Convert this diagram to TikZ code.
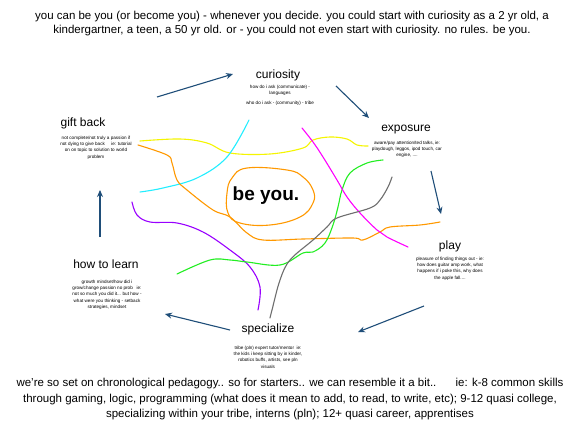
\documentclass[tikz,border=0pt]{standalone}
\usepackage{fontspec}
\setmainfont{Liberation Sans}
\usetikzlibrary{arrows.meta}
\definecolor{arrowblue}{HTML}{1F4E79}
\definecolor{cyanc}{HTML}{22EEFF}
\definecolor{yellowc}{HTML}{F5F500}
\definecolor{orangec}{HTML}{FF9900}
\definecolor{purplec}{HTML}{9900FF}
\definecolor{greenc}{HTML}{22EE22}
\definecolor{magentac}{HTML}{FF00FF}
\definecolor{grayc}{HTML}{6E6E6E}
\tikzset{
  stagetitle/.style={font=\fontsize{12}{14}\selectfont, inner sep=0pt, anchor=center},
  stagedesc/.style={font=\fontsize{4.6}{6.2}\selectfont, align=center, inner sep=0pt, anchor=north},
  headtext/.style={font=\fontsize{11.5}{14}\selectfont, align=center, inner sep=0pt},
  foottext/.style={font=\fontsize{11.5}{15.5}\selectfont, align=center, inner sep=0pt},
  flow/.style={draw=arrowblue, line width=1.1pt, -{Stealth[length=7pt,width=6pt]}},
  scribble/.style={line width=1.1pt, line cap=round, line join=round},
}
\begin{document}
\begin{tikzpicture}[x=1pt,y=-1pt]
\useasboundingbox[fill=white] (0,0) rectangle (584,436);

% header
\node[headtext] (header) at (292,24) {you can be you (or become you) - whenever you decide. you could start with curiosity as a 2 yr old, a\\kindergartner, a teen, a 50 yr old. or - you could not even start with curiosity. no rules. be you.};

% footer
\node[foottext] (footer) at (290,399.5) {we're so set on chronological pedagogy.. so for starters.. we can resemble it a bit..\ \ \ \ \ \ ie: k-8 common skills\\through gaming, logic, programming (what does it mean to add, to read, to write, etc); 9-12 quasi college,\\specializing within your tribe, interns (pln); 12+ quasi career, apprentises};

% scribbles
\draw[scribble, yellowc] plot[smooth, tension=0.6] coordinates {(140,141) (180,139) (207,143) (230,153) (270,154) (303,148) (313,140) (330,137) (347,139) (357,145) (368,146)};
\draw[scribble, cyanc] plot[smooth, tension=0.6] coordinates {(140,192) (163,188) (197,178) (227,157) (249,120)};
\draw[scribble, orangec] plot[smooth, tension=0.6] coordinates {(138,145) (167,155) (172,163) (177,180) (187,190) (213,210) (230,217) (247,233) (263,240) (303,239) (353,238) (363,240) (380,232) (390,227) (420,225) (440,222)};
\draw[scribble, orangec] plot[smooth cycle, tension=0.7] coordinates {(247,168) (287,170) (303,177) (313,190) (313,203) (300,217) (270,225) (240,223) (228,213) (227,193) (232,178)};
\draw[scribble, purplec] plot[smooth, tension=0.6] coordinates {(132,202) (137,215) (150,222) (177,223) (203,232) (230,250) (250,267) (260,287) (258,310)};
\draw[scribble, greenc] plot[smooth, tension=0.6] coordinates {(177,274) (210,260) (230,260) (247,262) (280,265) (303,253) (313,252) (325,243) (333,225) (338,207) (342,190) (350,173) (367,163) (383,160)};
\draw[scribble, magentac] plot[smooth, tension=0.6] coordinates {(302,128) (313,142) (323,157) (337,180) (347,197) (360,213) (377,230) (387,237) (408,247)};
\draw[scribble, grayc] plot[smooth, tension=0.6] coordinates {(392,177) (388,187) (380,200) (370,208) (337,218) (327,227) (313,240) (290,260) (280,280) (272,310) (270,318)};

% central text
\node[font=\bfseries\fontsize{19}{22}\selectfont, inner sep=0pt] (beyou) at (266,196) {be you.};

% stages
\node[stagetitle] (curiosity) at (278,75) {curiosity};
\node[stagedesc] (curiositydesc) at (280,85) {how do i ask (communicate) -\\languages\\[3.5pt]who do i ask - (community) - tribe};

\node[stagetitle] (exposure) at (406,130) {exposure};
\node[stagedesc] (exposuredesc) at (407,141) {aware/pay attention/ted talks, ie:\\playdough, leggos, ipod touch, car\\engine, ....};

\node[stagetitle] (play) at (450,246) {play};
\node[stagedesc] (playdesc) at (450,257) {pleasure of finding things out - ie:\\how does guitar amp work, what\\happens if i poke this, why does\\the apple fall....};

\node[stagetitle] (specialize) at (268,329) {specialize};
\node[stagedesc] (specializedesc) at (268,346) {tribe (pln) expert tutor/mentor\ \ ie:\\the kids i keep sitting by in kinder,\\robotics buffs, artists, see pln\\visuals};

\node[stagetitle] (howtolearn) at (106,264) {how to learn};
\node[stagedesc] (howtolearndesc) at (107,280) {growth mindset/how did i\\grow/change passion no prob\ \ \ ie:\\not so much you did it... but how -\\what were you thinking - setback\\strategies, mindset};

\node[stagetitle] (giftback) at (83,123) {gift back};
\node[stagedesc] (giftbackdesc) at (96,136) {not complete/not truly a passion if\\not dying to give back\ \ \ \ \ ie: tutorial\\on on topic to solution to world\\problem};

% flow arrows
\coordinate (a1s) at (157,97);  \coordinate (a1e) at (233,74);
\coordinate (a2s) at (336,86);  \coordinate (a2e) at (369,118);
\coordinate (a3s) at (431,171); \coordinate (a3e) at (441,214);
\coordinate (a4s) at (424,306); \coordinate (a4e) at (358,332);
\coordinate (a5s) at (230,330); \coordinate (a5e) at (165,314);
\coordinate (a6s) at (100,237); \coordinate (a6e) at (100,190);
\draw[flow] (a1s) -- (a1e);
\draw[flow] (a2s) -- (a2e);
\draw[flow] (a3s) -- (a3e);
\draw[flow] (a4s) -- (a4e);
\draw[flow] (a5s) -- (a5e);
\draw[flow] (a6s) -- (a6e);
\end{tikzpicture}
\end{document}
